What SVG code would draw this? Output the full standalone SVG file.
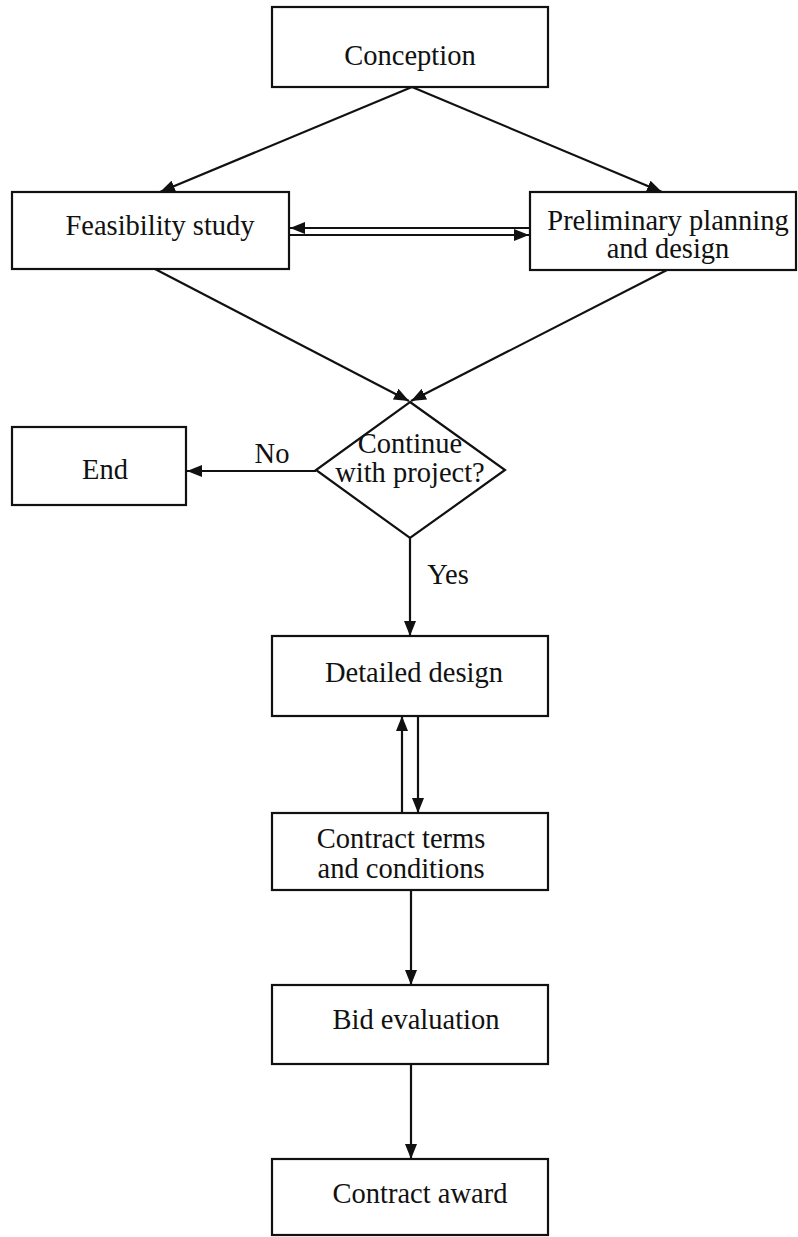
<svg xmlns="http://www.w3.org/2000/svg" width="798" height="1237" viewBox="0 0 798 1237">
  <style>
    .box { fill: #ffffff; stroke: #111111; stroke-width: 2.2; }
    .lbl { font-family: "Liberation Serif", "Times New Roman", serif; font-size: 28.5px; fill: #111111; text-anchor: middle; }
    .edge { fill: none; stroke: #111111; stroke-width: 2.2; }
  </style>
  <defs>
    <marker id="arrow" markerUnits="userSpaceOnUse" markerWidth="16" markerHeight="12" refX="15" refY="6" orient="auto">
      <path d="M0,0 L15,6 L0,12 z" fill="#111111"/>
    </marker>
  </defs>

  <rect width="798" height="1237" fill="#ffffff"/>

  <!-- connectors -->
  <g id="connectors">
    <line class="edge" x1="412" y1="87" x2="160" y2="192" marker-end="url(#arrow)"/>
    <line class="edge" x1="412" y1="87" x2="662" y2="192" marker-end="url(#arrow)"/>
    <line class="edge" x1="530" y1="228" x2="290" y2="228" marker-end="url(#arrow)"/>
    <line class="edge" x1="290" y1="235" x2="529" y2="235" marker-end="url(#arrow)"/>
    <line class="edge" x1="155" y1="269" x2="409" y2="401" marker-end="url(#arrow)"/>
    <line class="edge" x1="667" y1="270" x2="411" y2="401" marker-end="url(#arrow)"/>
    <line class="edge" x1="316" y1="471" x2="187" y2="471" marker-end="url(#arrow)"/>
    <line class="edge" x1="410" y1="538" x2="410" y2="636" marker-end="url(#arrow)"/>
    <line class="edge" x1="402" y1="813" x2="402" y2="716" marker-end="url(#arrow)"/>
    <line class="edge" x1="418" y1="716" x2="418" y2="813" marker-end="url(#arrow)"/>
    <line class="edge" x1="411" y1="890" x2="411" y2="985" marker-end="url(#arrow)"/>
    <line class="edge" x1="411" y1="1064" x2="411" y2="1159" marker-end="url(#arrow)"/>
    <text class="lbl" x="272" y="463">No</text>
    <text class="lbl" x="448" y="584">Yes</text>
  </g>

  <g id="conception">
    <rect class="box" x="272" y="7" width="276" height="80"/>
    <text class="lbl" x="410" y="65">Conception</text>
  </g>

  <g id="feasibility">
    <rect class="box" x="12" y="192" width="277" height="77"/>
    <text class="lbl" x="160" y="235">Feasibility study</text>
  </g>

  <g id="preliminary">
    <rect class="box" x="530" y="192" width="266" height="78"/>
    <text class="lbl" x="668" y="230">Preliminary planning</text>
    <text class="lbl" x="668" y="258">and design</text>
  </g>

  <g id="decision">
    <polygon class="box" points="410,402 505,470 410,538 316,470"/>
    <text class="lbl" x="410" y="453">Continue</text>
    <text class="lbl" x="410" y="482">with project?</text>
  </g>

  <g id="end">
    <rect class="box" x="12" y="427" width="174" height="78"/>
    <text class="lbl" x="105" y="479">End</text>
  </g>

  <g id="detailed-design">
    <rect class="box" x="272" y="636" width="276" height="80"/>
    <text class="lbl" x="414" y="682">Detailed design</text>
  </g>

  <g id="contract-terms">
    <rect class="box" x="272" y="813" width="276" height="77"/>
    <text class="lbl" x="401" y="848">Contract terms</text>
    <text class="lbl" x="401" y="878">and conditions</text>
  </g>

  <g id="bid-evaluation">
    <rect class="box" x="272" y="985" width="276" height="79"/>
    <text class="lbl" x="416" y="1029">Bid evaluation</text>
  </g>

  <g id="contract-award">
    <rect class="box" x="272" y="1159" width="276" height="76"/>
    <text class="lbl" x="420" y="1203">Contract award</text>
  </g>
</svg>
